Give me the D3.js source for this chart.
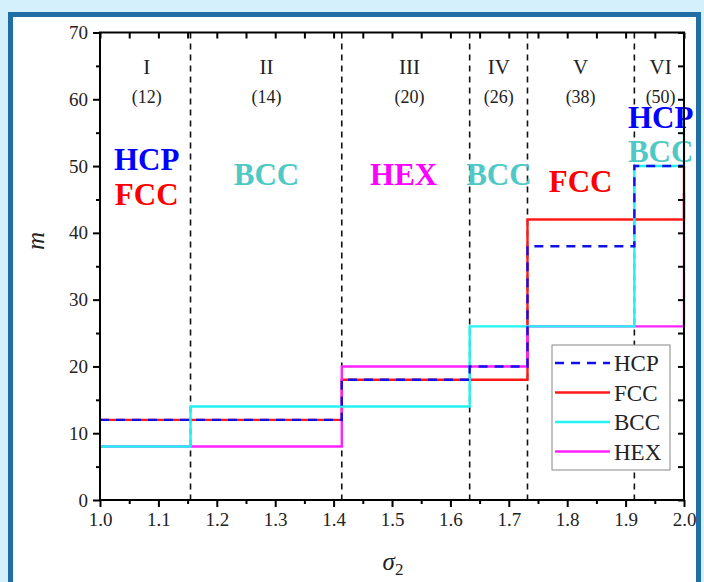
<!DOCTYPE html>
<html>
<head>
<meta charset="utf-8">
<script src="https://cdn.jsdelivr.net/npm/d3@7"></script>
<style>
	html, body { margin: 0; padding: 0; background: #d3f0fc; }
	svg { display: block; }
	text { font-family: "Liberation Serif", "Times New Roman", serif; }
</style>
</head>
<body>
<svg width="704" height="582"></svg>
<script>
// Region borders on sigma_2 and step values of each structure
var breaks = [1.0, 1.155, 1.414, 1.633, 1.732, 1.915, 2.0];
var hcp = [12, 12, 18, 20, 38, 50, 50];
var fcc = [12, 12, 18, 18, 42, 42, 50];
var bcc = [8, 14, 14, 26, 26, 50, 57];
var hex = [8, 8, 20, 20, 26, 26, 46];

var regionNames = ['I', 'II', 'III', 'IV', 'V', 'VI'];
var regionCounts = ['(12)', '(14)', '(20)', '(26)', '(38)', '(50)'];
var regionLabelX = [1.08, 1.285, 1.53, 1.683, 1.823, 1.96];

// phase labels: text, x, y (data units), colour
var phaseLabels = [
	['HCP', 1.08, 49.4, '#0000ff'],
	['FCC', 1.08, 44.2, '#ff0000'],
	['BCC', 1.285, 47.2, '#4ec9c6'],
	['HEX', 1.52, 47.2, '#ff00ff'],
	['BCC', 1.683, 47.2, '#4ec9c6'],
	['FCC', 1.823, 46.1, '#ff0000'],
	['HCP', 1.96, 55.7, '#0000ff'],
	['BCC', 1.96, 50.6, '#4ec9c6']
];

var series = [
	{ name: 'FCC', values: fcc, color: '#ff1a1a', dash: null },
	{ name: 'HEX', values: hex, color: '#ff22ff', dash: null },
	{ name: 'BCC', values: bcc, color: '#22f2f2', dash: null },
	{ name: 'HCP', values: hcp, color: '#1010ee', dash: '9,7' }
];
var legendOrder = ['HCP', 'FCC', 'BCC', 'HEX'];

var svg = d3.select('svg');

// Frame
svg.append('rect')
	.attr('x', 10.5).attr('y', 14.5)
	.attr('width', 688).attr('height', 600)
	.attr('fill', '#ffffff')
	.attr('stroke', '#1f6ea6')
	.attr('stroke-width', 5);

var x = d3.scaleLinear().domain([1.0, 2.0]).range([100, 684]);
var y = d3.scaleLinear().domain([0, 70]).range([500, 32.5]);

var plot = svg.append('g');

// Region borders
plot.selectAll('.border')
	.data(breaks.slice(1, -1))
	.enter().append('line')
	.attr('x1', d => x(d)).attr('x2', d => x(d))
	.attr('y1', y(70)).attr('y2', y(0))
	.attr('stroke', '#111')
	.attr('stroke-width', 1.6)
	.attr('stroke-dasharray', '6,5');

// Steps
var line = d3.line()
	.x((d, i) => x(breaks[i]))
	.y(d => y(d))
	.curve(d3.curveStepAfter);

plot.selectAll('.step')
	.data(series)
	.enter().append('path')
	.attr('d', d => line(d.values))
	.attr('fill', 'none')
	.attr('stroke', d => d.color)
	.attr('stroke-width', 2.4)
	.attr('stroke-dasharray', d => d.dash);

// Region names
plot.selectAll('.rname')
	.data(regionNames)
	.enter().append('text')
	.attr('x', (d, i) => x(regionLabelX[i]))
	.attr('y', 74)
	.attr('text-anchor', 'middle')
	.attr('font-size', 21)
	.attr('fill', '#222')
	.text(d => d);
plot.selectAll('.rcount')
	.data(regionCounts)
	.enter().append('text')
	.attr('x', (d, i) => x(regionLabelX[i]))
	.attr('y', 103)
	.attr('text-anchor', 'middle')
	.attr('font-size', 18)
	.attr('fill', '#222')
	.text(d => d);

plot.selectAll('.phase')
	.data(phaseLabels)
	.enter().append('text')
	.attr('x', d => x(d[1]))
	.attr('y', d => y(d[2]))
	.attr('text-anchor', 'middle')
	.attr('font-size', 31)
	.attr('font-weight', 'bold')
	.attr('fill', d => d[3])
	.text(d => d[0]);

// Axes
function styleAxis(g)
{
	g.select('.domain').remove();
	g.selectAll('line').attr('stroke', '#000').attr('stroke-width', 2);
	g.selectAll('text').attr('font-size', 19).attr('fill', '#222')
		.style('font-family', '"Liberation Serif", "Times New Roman", serif');
}

var xTicks = d3.range(10, 21).map(d => d / 10);
var xMinor = d3.range(10, 20).map(d => d / 10 + 0.05);
var yTicks = d3.range(0, 71, 10);
var yMinor = d3.range(5, 70, 10);

svg.append('g').attr('transform', 'translate(0,' + y(0) + ')')
	.call(d3.axisBottom(x).tickValues(xTicks).tickFormat(d3.format('.1f')).tickSize(7).tickPadding(6))
	.call(styleAxis);
svg.append('g').attr('transform', 'translate(0,' + y(0) + ')')
	.call(d3.axisBottom(x).tickValues(xMinor).tickFormat('').tickSize(4))
	.call(styleAxis);
svg.append('g').attr('transform', 'translate(' + x(1) + ',0)')
	.call(d3.axisLeft(y).tickValues(yTicks).tickSize(7).tickPadding(5))
	.call(styleAxis);
svg.append('g').attr('transform', 'translate(' + x(1) + ',0)')
	.call(d3.axisLeft(y).tickValues(yMinor).tickFormat('').tickSize(4))
	.call(styleAxis);
// top and right, ticks inward
svg.append('g').attr('transform', 'translate(0,' + y(70) + ')')
	.call(d3.axisBottom(x).tickValues(xTicks.concat(xMinor)).tickFormat('').tickSize(6))
	.call(styleAxis);
svg.append('g').attr('transform', 'translate(' + x(2) + ',0)')
	.call(d3.axisLeft(y).tickValues(yTicks.concat(yMinor)).tickFormat('').tickSize(6))
	.call(styleAxis);

// Axis frame lines
svg.append('rect')
	.attr('x', x(1)).attr('y', y(70))
	.attr('width', x(2) - x(1)).attr('height', y(0) - y(70))
	.attr('fill', 'none')
	.attr('stroke', '#000')
	.attr('stroke-width', 2);

// Axis titles
svg.append('text')
	.attr('x', 393).attr('y', 570)
	.attr('text-anchor', 'middle')
	.attr('font-size', 25)
	.attr('font-style', 'italic')
	.attr('fill', '#222')
	.text('σ')
	.append('tspan')
	.attr('font-size', 17)
	.attr('font-style', 'normal')
	.attr('dy', 5)
	.text('2');
svg.append('text')
	.attr('transform', 'translate(44,241) rotate(-90)')
	.attr('text-anchor', 'middle')
	.attr('font-size', 25)
	.attr('font-style', 'italic')
	.attr('fill', '#222')
	.text('m');

// Legend
var legend = svg.append('g').attr('transform', 'translate(552,345)');
legend.append('rect')
	.attr('width', 118).attr('height', 125)
	.attr('fill', '#fff')
	.attr('stroke', '#888')
	.attr('stroke-width', 1);
var items = legend.selectAll('.item')
	.data(legendOrder.map(n => series.find(s => s.name === n)))
	.enter().append('g')
	.attr('transform', (d, i) => 'translate(0,' + (18 + i * 29.5) + ')');
items.append('line')
	.attr('x1', 3).attr('x2', 58)
	.attr('stroke', d => d.color)
	.attr('stroke-width', 2.4)
	.attr('stroke-dasharray', d => d.dash);
items.append('text')
	.attr('x', 62).attr('y', 8)
	.attr('font-size', 23)
	.attr('fill', '#222')
	.text(d => d.name);
</script>
</body>
</html>
